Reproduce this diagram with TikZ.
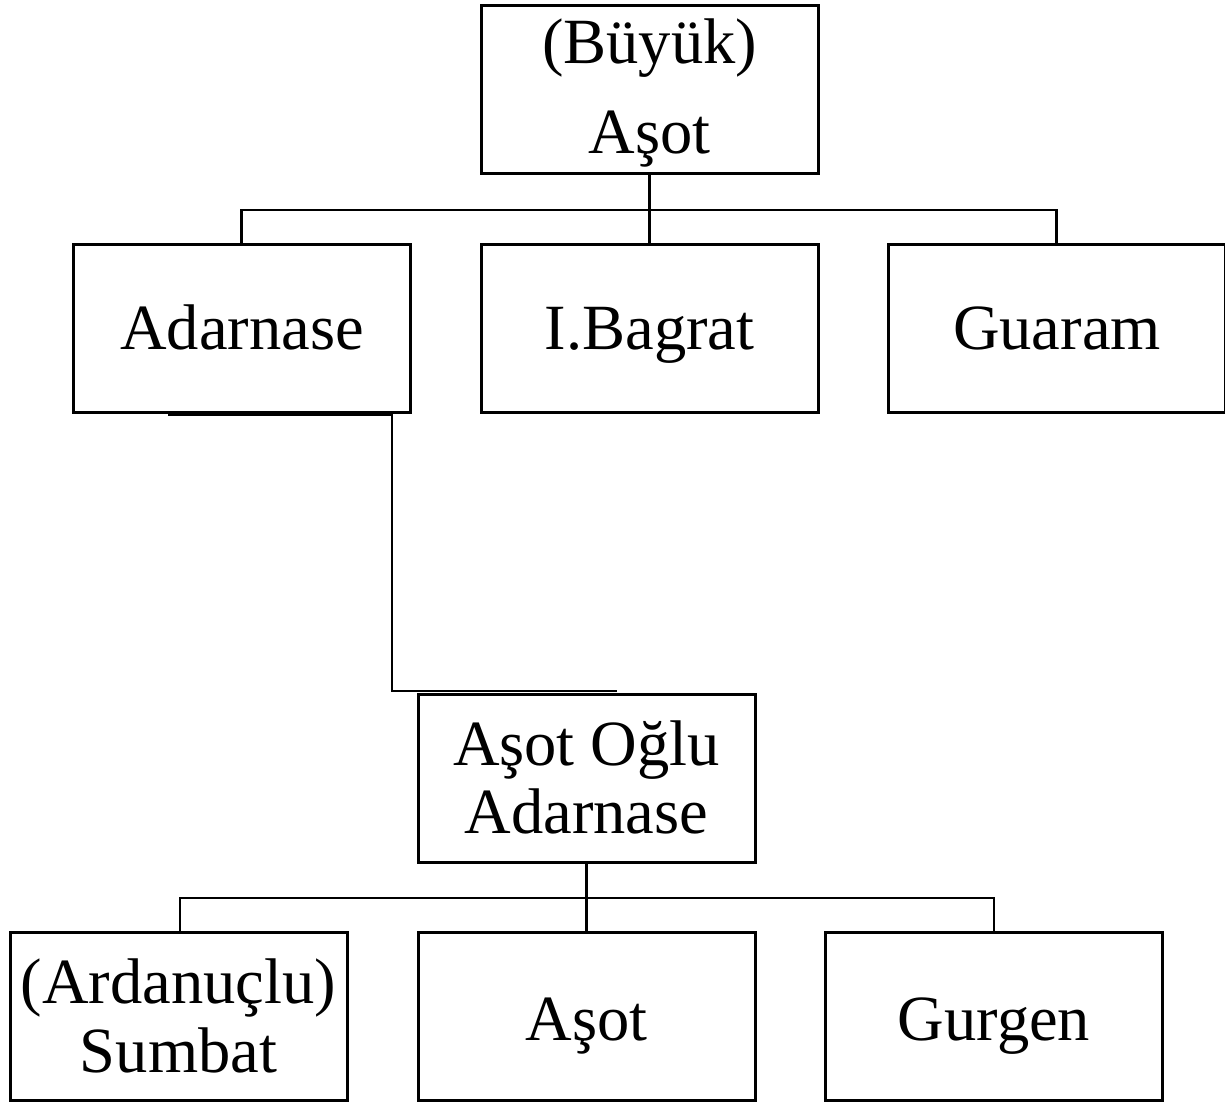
\documentclass[tikz,border=0pt]{standalone}
\usepackage{fontspec}
\setmainfont{Liberation Serif}
\begin{document}
\begin{tikzpicture}[x=1pt,y=-1pt,
  box/.style={draw=black,line width=3pt,minimum width=337pt,minimum height=168pt,inner sep=0pt},
  txt/.style={anchor=base,inner sep=0pt,font=\fontsize{64.5}{72}\selectfont},
  conn/.style={draw=black,line width=2.4pt}]
\useasboundingbox (0,0) rectangle (1225,1106);
% boxes
\node[box] (top) at (649.5,89) {};
\node[box] (adar) at (241.5,328) {};
\node[box] (bag) at (649.5,328) {};
\node[box] (guar) at (1056.5,328) {};
\node[box] (mid) at (586.5,778) {};
\node[box] (sumb) at (178.5,1016) {};
\node[box] (asot) at (586.5,1016) {};
\node[box] (gurg) at (994,1016) {};
% texts
\node[txt] (t1a) at (649.5,63) {(Büyük)};
\node[txt] (t1b) at (649.5,153) {Aşot};
\node[txt] (t2) at (242,349) {Adarnase};
\node[txt] (t3) at (649.5,349) {I.Bagrat};
\node[txt] (t4) at (1057,349) {Guaram};
\node[txt] (t5a) at (586.5,765) {Aşot Oğlu};
\node[txt] (t5b) at (586.5,833) {Adarnase};
\node[txt] (t6a) at (178.5,1003) {(Ardanuçlu)};
\node[txt] (t6b) at (178.5,1072) {Sumbat};
\node[txt] (t7) at (586.5,1040) {Aşot};
\node[txt] (t8) at (994,1040) {Gurgen};
% connectors
\coordinate (j1) at (649.5,210);
\draw[conn] (top.south) -- (j1);
\draw[conn] (j1) -| (adar.north);
\draw[conn] (j1) -| (guar.north);
\draw[conn] (j1) -- (bag.north);
\coordinate (a1) at (168,414.5);
\coordinate (a2) at (392,414.5);
\coordinate (a3) at (392,691);
\coordinate (a4) at (617,691);
\draw[conn] (a1) -- (a2) -- (a3) -- (a4);
\coordinate (j2) at (586.5,898);
\coordinate (s1) at (180,932);
\draw[conn] (mid.south) -- (j2);
\draw[conn] (j2) -| (s1);
\draw[conn] (j2) -| (gurg.north);
\draw[conn] (j2) -- (asot.north);
\end{tikzpicture}
\end{document}
